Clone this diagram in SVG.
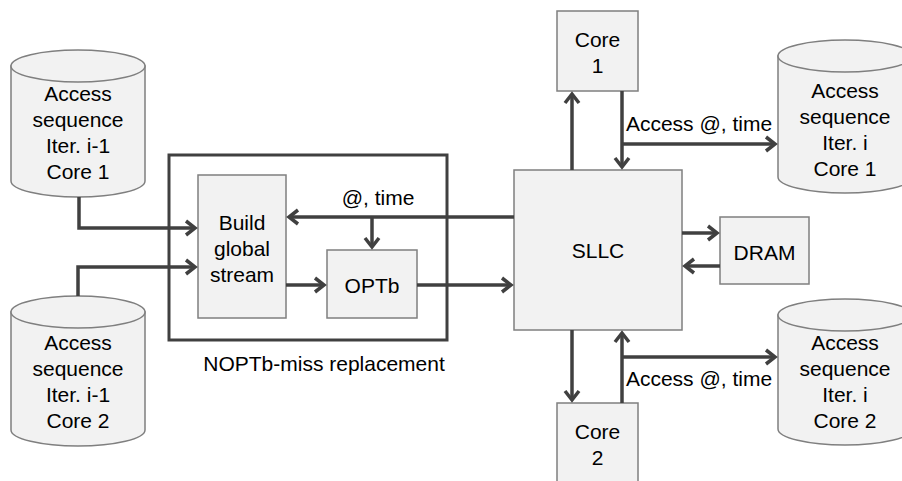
<svg xmlns="http://www.w3.org/2000/svg" width="902" height="481" viewBox="0 0 902 481">
<style>
.box{fill:#f2f2f2;stroke:#7f7f7f;stroke-width:1.5}
.frame{fill:none;stroke:#404040;stroke-width:3}
.t{font-family:"Liberation Sans",Arial,sans-serif;font-size:21px;fill:#000;text-anchor:middle}
.c{fill:none;stroke:#404040;stroke-width:3.5}
</style>
<defs>
<marker id="ah" markerUnits="userSpaceOnUse" markerWidth="20" markerHeight="20" viewBox="-12 -10 20 20" refX="0" refY="0" orient="auto" overflow="visible">
<path d="M-9,-7 L0,0 L-9,7" fill="none" stroke="#404040" stroke-width="3.5"/>
</marker>
</defs>
<rect class="frame" x="169" y="155" width="278" height="185"/>
<text class="t" x="324" y="370.5">NOPTb-miss replacement</text>
<g id="cyl1">
<path class="box" d="M11,66 V181 A67,16 0 0 0 145,181 V66 Z"/>
<ellipse class="box" cx="78" cy="66" rx="67" ry="16"/>
<text class="t" x="78" y="100.5">Access</text>
<text class="t" x="78" y="126.5">sequence</text>
<text class="t" x="78" y="152.5">Iter. i-1</text>
<text class="t" x="78" y="178.5">Core 1</text>
</g>
<g id="cyl2">
<path class="box" d="M11,312 V430 A67,16 0 0 0 145,430 V312 Z"/>
<ellipse class="box" cx="78" cy="312" rx="67" ry="16"/>
<text class="t" x="78" y="349.5">Access</text>
<text class="t" x="78" y="375.5">sequence</text>
<text class="t" x="78" y="401.5">Iter. i-1</text>
<text class="t" x="78" y="427.5">Core 2</text>
</g>
<g id="cyl3">
<path class="box" d="M778,56 V177 A67,16 0 0 0 912,177 V56 Z"/>
<ellipse class="box" cx="845" cy="56" rx="67" ry="16"/>
<text class="t" x="845" y="97.5">Access</text>
<text class="t" x="845" y="123.5">sequence</text>
<text class="t" x="845" y="149.5">Iter. i</text>
<text class="t" x="845" y="175.5">Core 1</text>
</g>
<g id="cyl4">
<path class="box" d="M778,315 V429 A67,16 0 0 0 912,429 V315 Z"/>
<ellipse class="box" cx="845" cy="315" rx="67" ry="16"/>
<text class="t" x="845" y="349.5">Access</text>
<text class="t" x="845" y="375.5">sequence</text>
<text class="t" x="845" y="401.5">Iter. i</text>
<text class="t" x="845" y="427.5">Core 2</text>
</g>
<g id="build">
<rect class="box" x="198" y="175" width="88" height="143"/>
<text class="t" x="242" y="229.5">Build</text>
<text class="t" x="242" y="255.5">global</text>
<text class="t" x="242" y="281.5">stream</text>
</g>
<g id="optb">
<rect class="box" x="327" y="250" width="90" height="68"/>
<text class="t" x="372" y="292.5">OPTb</text>
</g>
<g id="sllc">
<rect class="box" x="514" y="170" width="168" height="160"/>
<text class="t" x="598" y="257.5">SLLC</text>
</g>
<g id="dram">
<rect class="box" x="720" y="217" width="89" height="67"/>
<text class="t" x="764.5" y="259.5">DRAM</text>
</g>
<g id="core1">
<rect class="box" x="557" y="11" width="81" height="80"/>
<text class="t" x="597.5" y="46.5">Core</text>
<text class="t" x="597.5" y="72.5">1</text>
</g>
<g id="core2">
<rect class="box" x="557" y="403" width="81" height="80"/>
<text class="t" x="597.5" y="438.5">Core</text>
<text class="t" x="597.5" y="464.5">2</text>
</g>
<g id="connectors">
<path class="c" d="M79,197 V228 H195" marker-end="url(#ah)"/>
<path class="c" d="M78,296 V267 H195" marker-end="url(#ah)"/>
<path class="c" d="M514,217 H289" marker-end="url(#ah)"/>
<path class="c" d="M372,217 V247" marker-end="url(#ah)"/>
<path class="c" d="M286,285 H324" marker-end="url(#ah)"/>
<path class="c" d="M417,285 H511" marker-end="url(#ah)"/>
<path class="c" d="M572,170 V94" marker-end="url(#ah)"/>
<path class="c" d="M622,91 V167" marker-end="url(#ah)"/>
<path class="c" d="M622,144 H775" marker-end="url(#ah)"/>
<path class="c" d="M682,233 H717" marker-end="url(#ah)"/>
<path class="c" d="M720,266 H685" marker-end="url(#ah)"/>
<path class="c" d="M572,330 V400" marker-end="url(#ah)"/>
<path class="c" d="M622,403 V333" marker-end="url(#ah)"/>
<path class="c" d="M622,357 H775" marker-end="url(#ah)"/>
<text class="t" x="378" y="204.5">@, time</text>
<text class="t" x="699" y="130.5">Access @, time</text>
<text class="t" x="699" y="385.5">Access @, time</text>
</g>
</svg>
